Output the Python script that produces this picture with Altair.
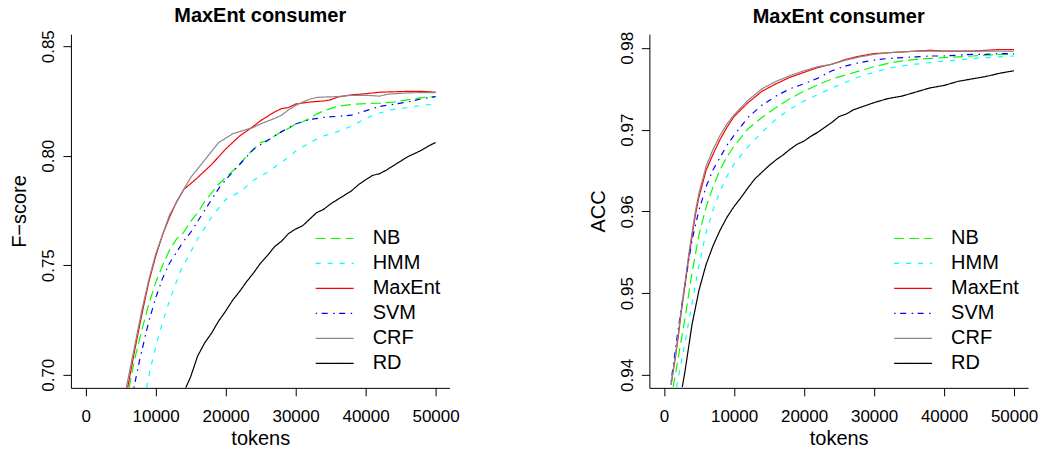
import altair as alt
import pandas as pd

SERIES = ["NB", "HMM", "MaxEnt", "SVM", "CRF", "RD"]
COLORS = ["#00ff00", "#00ffff", "#ff0000", "#0000ff", "#888888", "#000000"]
DASHES = [[10, 5], [5, 7], [1, 0], [1.5, 4.5, 6, 5.5], [1, 0], [1, 0]]

X_TICKS = [0, 10000, 20000, 30000, 40000, 50000]
F_TICKS = [0.70, 0.75, 0.80, 0.85]
A_TICKS = [0.94, 0.95, 0.96, 0.97, 0.98]

# ---------------- F-score panel ----------------
F_NB_X = [6200, 7000, 8000, 9000, 10000, 11000, 12000, 13000, 14000, 15000, 16000, 17000, 18000, 19000,
          20000, 21000, 22000, 23000, 24000, 25000, 26000, 27000, 28000, 29000, 30000, 31000, 32000,
          33000, 34000, 35000, 36000, 37000, 38000, 40000, 42000, 44000, 46000, 48000, 50000]
F_NB_Y = [0.694, 0.707, 0.720, 0.732, 0.742, 0.750, 0.757, 0.762, 0.765, 0.770, 0.774, 0.779, 0.783, 0.787,
          0.790, 0.793, 0.796, 0.800, 0.803, 0.806, 0.807, 0.809, 0.811, 0.8125, 0.8145, 0.8155, 0.817,
          0.819, 0.8205, 0.8215, 0.8225, 0.823, 0.8234, 0.8238, 0.824, 0.8245, 0.8255, 0.8265, 0.827]

F_HMM_X = [8700, 9300, 10500, 12000, 13500, 14000, 16000, 18000, 20000, 22000, 23000, 24000, 26000, 28000,
           30000, 32000, 34000, 36000, 38000, 40000, 42000, 44000, 46000, 48000, 50000]
F_HMM_Y = [0.694, 0.7035, 0.7187, 0.734, 0.747, 0.750, 0.762, 0.772, 0.780, 0.7835, 0.786, 0.7888, 0.7925,
           0.797, 0.802, 0.806, 0.809, 0.811, 0.8135, 0.817, 0.8195, 0.8212, 0.822, 0.823, 0.8236]

F_ME_X = [6000, 7000, 8000, 9000, 10000, 11000, 12000, 13000, 14000, 16000, 18000, 19000, 20000, 22000,
          24000, 25000, 26000, 27000, 28000, 29000, 30000, 32000, 34000, 35000, 36000, 38000, 40000,
          42000, 44000, 46000, 48000, 50000]
F_ME_Y = [0.694, 0.711, 0.727, 0.742, 0.754, 0.764, 0.772, 0.779, 0.7845, 0.790, 0.796, 0.7995, 0.803,
          0.809, 0.8135, 0.816, 0.818, 0.820, 0.8215, 0.822, 0.8236, 0.8245, 0.825, 0.8255, 0.8268,
          0.8278, 0.8283, 0.829, 0.8292, 0.8294, 0.8294, 0.829]

F_SVM_X = [6900, 7600, 8600, 9000, 10000, 11000, 12000, 13000, 14000, 15000, 16000, 17000, 18000, 19000,
           20000, 22000, 24000, 26000, 28000, 30000, 32000, 34000, 36000, 38000, 40000, 42000, 44000,
           46000, 48000, 50000]
F_SVM_Y = [0.694, 0.705, 0.7187, 0.724, 0.735, 0.744, 0.751, 0.756, 0.761, 0.765, 0.770, 0.775, 0.780,
           0.785, 0.789, 0.796, 0.803, 0.807, 0.811, 0.8145, 0.8165, 0.8175, 0.818, 0.8185, 0.8205,
           0.8225, 0.8235, 0.8245, 0.826, 0.827]

F_CRF_X = [5800, 7000, 8000, 9000, 10000, 12000, 14000, 15000, 16000, 17000, 18000, 19000, 20000, 21000,
           22000, 23000, 24000, 25000, 26000, 27000, 28000, 29000, 30000, 31000, 32000, 33000, 34000,
           36000, 38000, 40000, 42000, 43000, 44000, 46000, 48000, 50000]
F_CRF_Y = [0.694, 0.713, 0.729, 0.743, 0.755, 0.773, 0.7845, 0.790, 0.794, 0.798, 0.802, 0.806, 0.808,
           0.810, 0.811, 0.812, 0.813, 0.8145, 0.8158, 0.817, 0.8185, 0.821, 0.8229, 0.8245, 0.8258,
           0.8266, 0.8268, 0.827, 0.8276, 0.8276, 0.8272, 0.828, 0.8283, 0.8287, 0.8288, 0.8288]

F_RD_X = [14300, 15000, 16000, 17000, 18000, 19000, 20000, 21000, 22000, 23000, 24000, 25000, 26000,
          27000, 28000, 29000, 30000, 31000, 32000, 33000, 34000, 35000, 36000, 37000, 38000, 39000,
          40000, 41000, 42000, 43000, 44000, 45000, 46000, 47000, 48000, 49000, 50000]
F_RD_Y = [0.694, 0.699, 0.7085, 0.7145, 0.719, 0.7245, 0.729, 0.734, 0.738, 0.7425, 0.7465, 0.751, 0.7545,
          0.7585, 0.761, 0.7645, 0.7665, 0.768, 0.771, 0.774, 0.7755, 0.778, 0.780, 0.782, 0.784, 0.7868,
          0.789, 0.791, 0.7918, 0.7935, 0.7955, 0.7975, 0.7995, 0.801, 0.8025, 0.8045, 0.806]

# ---------------- ACC panel ----------------
A_NB_X = [1300, 2000, 3000, 4000, 5000, 6000, 7000, 8000, 9000, 10000, 12000, 14000, 16000, 18000, 20000,
          22000, 24000, 26000, 28000, 30000, 32000, 34000, 36000, 38000, 40000, 42000, 44000, 46000,
          48000, 50000]
A_NB_Y = [0.9385, 0.9420, 0.9470, 0.9525, 0.9572, 0.9605, 0.9630, 0.9651, 0.9667, 0.9680, 0.9701, 0.9715,
          0.9727, 0.9738, 0.9747, 0.9755, 0.9762, 0.9767, 0.9772, 0.9777, 0.9781, 0.9784, 0.9786, 0.9787,
          0.9788, 0.9789, 0.9790, 0.9791, 0.9792, 0.9792]

A_HMM_X = [1800, 2000, 3000, 4000, 5000, 6000, 7000, 8000, 9000, 10000, 12000, 14000, 16000, 18000, 20000,
           22000, 24000, 26000, 28000, 30000, 32000, 34000, 36000, 38000, 40000, 42000, 44000, 46000,
           48000, 50000]
A_HMM_Y = [0.9385, 0.9395, 0.9440, 0.9488, 0.9535, 0.9574, 0.9602, 0.9625, 0.9643, 0.9658, 0.9679, 0.9697,
           0.9713, 0.9725, 0.9735, 0.9743, 0.9751, 0.9758, 0.9765, 0.9770, 0.9775, 0.9778, 0.9780, 0.9782,
           0.9784, 0.9785, 0.9787, 0.9788, 0.9789, 0.9790]

A_ME_X = [1000, 1500, 2000, 2500, 3000, 3500, 4000, 4500, 5000, 6000, 7000, 8000, 9000, 10000, 12000,
          14000, 16000, 18000, 20000, 22000, 24000, 26000, 28000, 30000, 32000, 34000, 36000, 38000,
          40000, 42000, 44000, 46000, 48000, 50000]
A_ME_Y = [0.9388, 0.9415, 0.9445, 0.9480, 0.9510, 0.9542, 0.9570, 0.9597, 0.9618, 0.9650, 0.9670, 0.9688,
          0.9703, 0.9716, 0.9733, 0.9747, 0.9756, 0.9764, 0.9770, 0.9776, 0.9780, 0.9786, 0.9790, 0.9793,
          0.9794, 0.9795, 0.9796, 0.9797, 0.9796, 0.9796, 0.9796, 0.9797, 0.9798, 0.9798]

A_SVM_X = [1000, 2000, 3000, 4000, 5000, 6000, 7000, 8000, 9000, 10000, 12000, 14000, 16000, 18000, 20000,
           22000, 24000, 26000, 28000, 30000, 32000, 34000, 36000, 38000, 40000, 42000, 44000, 46000,
           48000, 50000]
A_SVM_Y = [0.9392, 0.9455, 0.9512, 0.9565, 0.9602, 0.9630, 0.9651, 0.9666, 0.9681, 0.9693, 0.9715, 0.9730,
           0.9741, 0.9750, 0.9756, 0.9763, 0.9772, 0.9778, 0.9782, 0.9785, 0.9787, 0.9788, 0.9789, 0.9790,
           0.9790, 0.9791, 0.9792, 0.9792, 0.9793, 0.9793]

A_CRF_X = [1000, 1500, 2000, 2500, 3000, 3500, 4000, 4500, 5000, 6000, 7000, 8000, 9000, 10000, 12000,
           14000, 16000, 18000, 20000, 22000, 24000, 26000, 28000, 30000, 32000, 34000, 36000, 38000,
           40000, 42000, 44000, 46000, 48000, 50000]
A_CRF_Y = [0.9388, 0.9417, 0.9448, 0.9483, 0.9514, 0.9546, 0.9574, 0.9601, 0.9623, 0.9655, 0.9676, 0.9693,
           0.9707, 0.9718, 0.9736, 0.9750, 0.9759, 0.9766, 0.9772, 0.9777, 0.9780, 0.9785, 0.9789, 0.9792,
           0.9794, 0.9795, 0.9796, 0.9796, 0.9796, 0.9796, 0.9796, 0.9796, 0.9796, 0.9796]

A_RD_X = [2600, 3000, 4000, 5000, 6000, 7000, 8000, 9000, 10000, 11000, 12000, 13000, 14000, 15000, 16000,
          17000, 18000, 19000, 20000, 21000, 22000, 23000, 24000, 25000, 26000, 27000, 28000, 29000,
          30000, 32000, 34000, 36000, 38000, 40000, 42000, 44000, 46000, 48000, 50000]
A_RD_Y = [0.9385, 0.9405, 0.9462, 0.9504, 0.9535, 0.9558, 0.9577, 0.9593, 0.9606, 0.9617, 0.9629, 0.9640,
          0.9648, 0.9656, 0.9663, 0.9669, 0.9676, 0.9682, 0.9686, 0.9692, 0.9697, 0.9703, 0.9709, 0.9716,
          0.9719, 0.9724, 0.9727, 0.9730, 0.9733, 0.9738, 0.9741, 0.9746, 0.9751, 0.9754, 0.9759, 0.9762,
          0.9765, 0.9769, 0.9772]

FONT = "Liberation Sans"


def frame(pairs):
    rows = []
    for name, xs, ys in pairs:
        for i, (x, y) in enumerate(zip(xs, ys)):
            rows.append({"method": name, "tokens": x, "value": y, "order": i})
    return pd.DataFrame(rows)


f_df = frame([("NB", F_NB_X, F_NB_Y), ("HMM", F_HMM_X, F_HMM_Y), ("MaxEnt", F_ME_X, F_ME_Y),
              ("SVM", F_SVM_X, F_SVM_Y), ("CRF", F_CRF_X, F_CRF_Y), ("RD", F_RD_X, F_RD_Y)])
a_df = frame([("NB", A_NB_X, A_NB_Y), ("HMM", A_HMM_X, A_HMM_Y), ("MaxEnt", A_ME_X, A_ME_Y),
              ("SVM", A_SVM_X, A_SVM_Y), ("CRF", A_CRF_X, A_CRF_Y), ("RD", A_RD_X, A_RD_Y)])


def panel(df, ytitle, ydomain, yticks):
    legend = alt.Legend(
        title=None, orient="none", legendX=244, legendY=192, padding=0,
        symbolType="stroke", symbolSize=1444, symbolStrokeWidth=1.2,
        labelFont=FONT, labelFontSize=20, labelColor="black", labelOffset=18,
        clipHeight=25, rowPadding=0,
    )
    return alt.Chart(df).mark_line(strokeWidth=1.2, clip=True).encode(
        x=alt.X("tokens:Q",
                scale=alt.Scale(domain=[-2100, 52000], nice=False, zero=False),
                axis=alt.Axis(values=X_TICKS, format="d", title="tokens")),
        y=alt.Y("value:Q",
                scale=alt.Scale(domain=ydomain, nice=False, zero=False),
                axis=alt.Axis(values=yticks, format=".2f", title=ytitle)),
        color=alt.Color("method:N", scale=alt.Scale(domain=SERIES, range=COLORS), legend=legend),
        strokeDash=alt.StrokeDash("method:N", scale=alt.Scale(domain=SERIES, range=DASHES), legend=legend),
        order="order:Q",
    ).properties(
        width=379, height=354,
        title=alt.TitleParams("MaxEnt consumer", font=FONT, fontSize=20, fontWeight="bold",
                              anchor="middle", frame="group", offset=-16, baseline="bottom", color="black"),
    )


left = panel(f_df, "F\u2212score", [0.694, 0.8555], F_TICKS)
right = panel(a_df, "ACC", [0.93842, 0.98167], A_TICKS)

chart = alt.hconcat(left, right, spacing=129).resolve_scale(
    color="independent", strokeDash="independent"
).properties(
    padding={"left": 10, "top": 5, "right": 5, "bottom": 5},
    background="white",
).configure_view(stroke=None).configure_axis(
    domainColor="black", domainWidth=1, tickColor="black", tickWidth=1, tickSize=8,
    grid=False, labelFont=FONT, labelFontSize=17, labelColor="black",
    titleFont=FONT, titleFontSize=20, titleFontWeight="normal", titleColor="black",
).configure_axisX(labelPadding=13, titlePadding=4, labelFlush=False).configure_axisY(
    labelAngle=-90, labelAlign="center", labelBaseline="alphabetic", labelPadding=9, titlePadding=10
)

chart.save("out.html", embed_options={"renderer": "svg", "actions": False})
